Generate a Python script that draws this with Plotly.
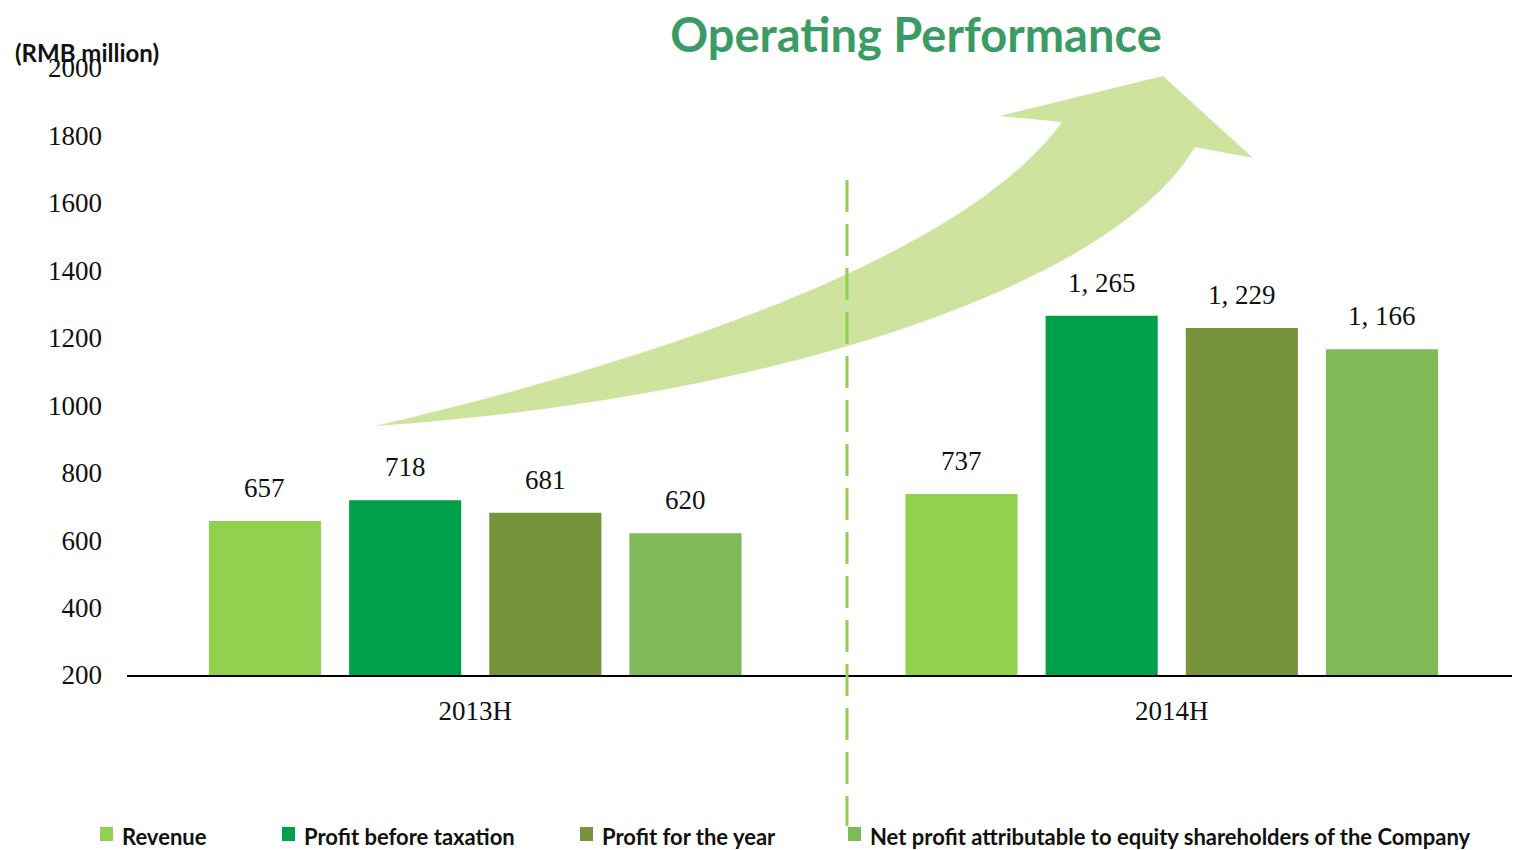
import plotly.graph_objects as go

# data
periods = ["2013H", "2014H"]
series_names = [
    "Revenue",
    "Profit before taxation",
    "Profit for the year",
    "Net profit attributable to equity shareholders of the Company",
]
revenue = [657, 737]
profit_before_tax = [718, 1265]
profit_for_year = [681, 1229]
net_profit = [620, 1166]
y_ticks = [200, 400, 600, 800, 1000, 1200, 1400, 1600, 1800, 2000]

series_values = [revenue, profit_before_tax, profit_for_year, net_profit]
colors = ["#92D050", "#00A04A", "#77933C", "#7FBA58"]

# page body has an 8px margin, so the figure is drawn 8px smaller
OFF = 8
W, H = 1520 - OFF, 850 - OFF
L, R, T, B = 119, 0, 60, 175
PW, PH = W - L - R, H - T - B
BARGAP, GROUPGAP = 0.195, 0.2


def to_paper(x, y):
    # screen pixel position -> paper fraction (decorations only)
    return (x - OFF - L) / PW, (H - B - (y - OFF)) / PH


def fmt(pt):
    x, y = to_paper(*pt)
    return f"{x:.5f},{y:.5f}"


# big curved arrow: upper edge, head, lower edge (cubic beziers)
tail = (375, 426)
upper_ctrl = [(680, 355), (970, 250), (1062, 122)]
head = [(1000, 116), (1163, 76), (1253, 158), (1195, 147)]
lower_ctrl = [(1110, 290), (760, 400), tail]

path = "M " + fmt(tail)
path += " C " + " ".join(fmt(p) for p in upper_ctrl)
for p in head:
    path += " L " + fmt(p)
path += " C " + " ".join(fmt(p) for p in lower_ctrl)
path += " Z"

fig = go.Figure()
for name, vals, col in zip(series_names, series_values, colors):
    fig.add_trace(go.Bar(name=name, x=periods, y=vals, marker=dict(color=col, line=dict(width=0)),
                         showlegend=False))

# value labels above bars
slot = PW / len(periods) * (1 - BARGAP) / len(series_values)
for i, vals in enumerate(series_values):
    for p, v in zip(periods, vals):
        fig.add_annotation(x=p, y=v, text=f"{v:,}".replace(",", ", "), showarrow=False,
                           xshift=(i - 1.5) * slot, yshift=33, yanchor="middle",
                           font=dict(family="Liberation Serif", size=27, color="#111111"))

shapes = [
    dict(type="path", path=path, xref="paper", yref="paper", fillcolor="#CDE39E",
         line=dict(width=0), layer="below"),
]
x0, y0 = to_paper(847, 180)
x1, y1 = to_paper(847, 826)
shapes.append(dict(type="line", xref="paper", yref="paper", x0=x0, x1=x0, y0=y0, y1=y1,
                   line=dict(color="#92D050", width=3, dash="32px,12px"), layer="above"))

# manual legend (spacing in reference is uneven)
legend_x = [100, 282, 580, 848]
for name, col, lx in zip(series_names, colors, legend_x):
    ax0, ay0 = to_paper(lx, 827)
    ax1, ay1 = to_paper(lx + 13, 841)
    shapes.append(dict(type="rect", xref="paper", yref="paper", x0=ax0, x1=ax1, y0=ay1, y1=ay0,
                       fillcolor=col, line=dict(width=0)))
    tx, ty = to_paper(lx + 20, 836)
    fig.add_annotation(x=tx, y=ty, xref="paper", yref="paper", text=f"<b>{name}</b>",
                       showarrow=False, xanchor="left", yanchor="middle",
                       font=dict(family="Lato", size=22, color="#111111"))

ux, uy = to_paper(13, 53)
fig.add_annotation(x=ux, y=uy, xref="paper", yref="paper", text="<b>(RMB million)</b>",
                   showarrow=False, xanchor="left", yanchor="middle",
                   font=dict(family="Lato", size=24, color="#111111"))

fig.update_layout(
    width=W, height=H,
    margin=dict(l=L, r=R, t=T, b=B),
    template="plotly_white",
    plot_bgcolor="white", paper_bgcolor="white",
    barmode="group", bargap=BARGAP, bargroupgap=GROUPGAP,
    shapes=shapes,
    title=dict(text="<b>Operating Performance</b>", x=(916 - OFF) / W, y=1 - (36 - OFF) / H,
               xanchor="center", yanchor="middle", xref="container", yref="container",
               font=dict(family="Lato", size=47, color="#3A9C64")),
    xaxis=dict(showgrid=False, showline=True, linecolor="black", linewidth=2, ticks="",
               ticklabelstandoff=11, tickfont=dict(family="Liberation Serif", size=27, color="#111111"),
               zeroline=False),
    yaxis=dict(range=[200, 2000], tickvals=y_ticks, tickformat="d", showgrid=False, zeroline=False,
               showline=False, ticks="", ticklabelstandoff=24,
               tickfont=dict(family="Liberation Serif", size=27, color="#111111")),
)

fig.write_html("out.html")
